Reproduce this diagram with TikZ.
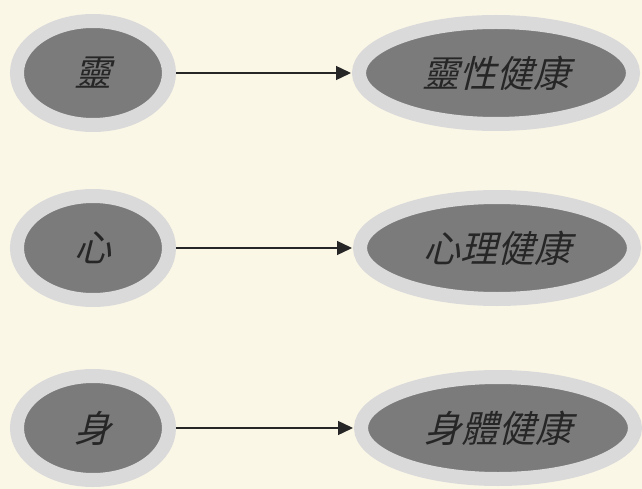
\documentclass[tikz,border=0pt]{standalone}
\usepackage{fontspec}
\newfontfamily\cjk[FakeSlant=0.25]{Noto Sans CJK TC}
\usetikzlibrary{shapes.geometric,arrows.meta}
\definecolor{bgc}{HTML}{FBF7E7}
\definecolor{ringc}{HTML}{DADADA}
\definecolor{innerc}{HTML}{7B7B7B}
\definecolor{txtc}{HTML}{262626}
\tikzset{
  oval/.style={ellipse, fill=innerc, draw=ringc, line width=14pt, inner sep=0pt,
    font=\cjk\fontsize{37}{37}\selectfont, text=txtc},
  smalloval/.style={oval, minimum width=152pt, minimum height=104pt},
  bigoval/.style={oval, minimum width=274pt, minimum height=102pt},
  link/.style={draw=black!85, line width=1.4pt, -{Triangle[length=15pt,width=14pt]}, shorten >=1pt}
}
\begin{document}
\begin{tikzpicture}[x=1pt,y=-1pt]
\useasboundingbox (0,0) rectangle (642,489);
\fill[bgc] (0,0) rectangle (642,489);
\node[smalloval] (l1) at (93,73) {靈};
\node[bigoval] (r1) at (496,73) {靈性健康};
\node[smalloval] (l2) at (93,248) {心};
\node[bigoval] (r2) at (497,248) {心理健康};
\node[smalloval] (l3) at (93,428) {身};
\node[bigoval] (r3) at (498,428) {身體健康};
\draw[link] (l1) -- (r1);
\draw[link] (l2) -- (r2);
\draw[link] (l3) -- (r3);
\end{tikzpicture}
\end{document}
